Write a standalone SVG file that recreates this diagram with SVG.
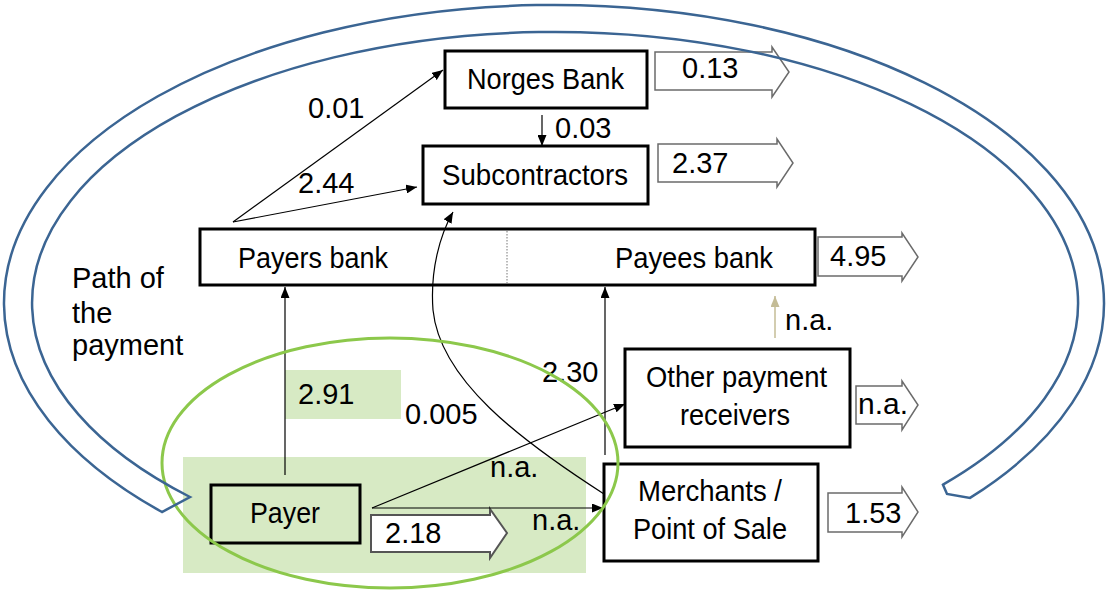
<svg xmlns="http://www.w3.org/2000/svg" width="1107" height="592" viewBox="0 0 1107 592">
<style>
text{font-family:"Liberation Sans",Arial,sans-serif;font-size:29px;fill:#000}
.box{fill:#fff;stroke:#000;stroke-width:3}
.blk{fill:#fff;stroke:#6b6b6b;stroke-width:1.5}
.con{fill:none;stroke:#000;stroke-width:1.2}
</style>
<defs>
<marker id="ah" markerUnits="userSpaceOnUse" markerWidth="11" markerHeight="9" refX="11" refY="4.5" orient="auto"><path d="M0,0 L11,4.5 L0,9 Z" fill="#000"/></marker>
<marker id="aht" markerUnits="userSpaceOnUse" markerWidth="11" markerHeight="9" refX="11" refY="4.5" orient="auto"><path d="M0,0 L11,4.5 L0,9 Z" fill="#c4bc96"/></marker>
</defs>
<rect width="1107" height="592" fill="#fff"/>

<g id="payer-area">
<rect x="183" y="457" width="403" height="116" fill="#d7eac4"/>
<rect x="285" y="370" width="116" height="49" fill="#d7eac4"/>
</g>

<g id="norges-bank">
<rect class="box" x="445" y="51" width="202" height="57"/>
<text x="467" y="89" textLength="157" lengthAdjust="spacingAndGlyphs">Norges Bank</text>
</g>
<g id="out-norges">
<path class="blk" d="M655,52 L772,52 L772,47 L789,72 L772,97 L772,90 L655,90 Z"/>
<text x="682" y="78">0.13</text>
</g>

<g id="subcontractors">
<rect class="box" x="423" y="146" width="225" height="58"/>
<text x="442" y="185" textLength="186" lengthAdjust="spacingAndGlyphs">Subcontractors</text>
</g>
<g id="out-subcontractors">
<path class="blk" d="M658,144 L777,144 L777,139 L793,163 L777,187 L777,182 L658,182 Z"/>
<text x="672" y="173">2.37</text>
</g>

<g id="banks">
<rect class="box" x="200" y="229" width="615" height="56"/>
<line x1="507" y1="231" x2="507" y2="283" stroke="#777" stroke-width="1" stroke-dasharray="1.5,1.5"/>
<text x="238" y="268" textLength="150" lengthAdjust="spacingAndGlyphs">Payers bank</text>
<text x="615" y="268" textLength="158" lengthAdjust="spacingAndGlyphs">Payees bank</text>
</g>
<g id="out-banks">
<path class="blk" d="M818,237 L902,237 L902,233 L918,257 L902,281 L902,276 L818,276 Z"/>
<text x="830" y="266">4.95</text>
</g>

<g id="other-receivers">
<rect class="box" x="625" y="349" width="225" height="98"/>
<text x="646" y="387" textLength="181" lengthAdjust="spacingAndGlyphs">Other payment</text>
<text x="680" y="425" textLength="110" lengthAdjust="spacingAndGlyphs">receivers</text>
</g>
<g id="out-other">
<path class="blk" d="M856,386 L902,386 L902,381 L918,405 L902,430 L902,424 L856,424 Z"/>
<text x="858" y="414" textLength="50" lengthAdjust="spacingAndGlyphs">n.a.</text>
</g>

<g id="merchants">
<rect class="box" x="604" y="464" width="214" height="97"/>
<text x="638" y="501" textLength="144" lengthAdjust="spacingAndGlyphs">Merchants /</text>
<text x="633" y="539" textLength="154" lengthAdjust="spacingAndGlyphs">Point of Sale</text>
</g>
<g id="out-merchants">
<path class="blk" d="M828,493 L902,493 L902,487 L918,512 L902,537 L902,532 L828,532 Z"/>
<text x="845" y="523">1.53</text>
</g>

<g id="payer">
<rect x="211" y="485" width="149" height="58" fill="none" stroke="#000" stroke-width="3"/>
<text x="250" y="523" textLength="70" lengthAdjust="spacingAndGlyphs">Payer</text>
</g>
<g id="out-payer">
<path d="M371,515 L490,515 L490,509 L507,533 L490,558 L490,552 L371,552 Z" fill="#fff" stroke="#555" stroke-width="2"/>
<text x="385" y="543">2.18</text>
</g>

<g id="connectors">
<line class="con" x1="233" y1="222" x2="443" y2="70" marker-end="url(#ah)"/>
<line class="con" x1="233" y1="222" x2="417" y2="187" marker-end="url(#ah)"/>
<line class="con" x1="542" y1="115" x2="542" y2="146" marker-end="url(#ah)"/>
<path class="con" d="M604,494 C520,440 440,380 433,310 C430,270 440,235 453,212" marker-end="url(#ah)"/>
<line class="con" x1="285" y1="475" x2="285" y2="287" marker-end="url(#ah)"/>
<line class="con" x1="605" y1="455" x2="605" y2="287" marker-end="url(#ah)"/>
<line x1="775" y1="338" x2="775" y2="296" stroke="#c4bc96" stroke-width="1.5" marker-end="url(#aht)"/>
<line class="con" x1="372" y1="508" x2="625" y2="404" marker-end="url(#ah)"/>
<line class="con" x1="372" y1="508" x2="603" y2="508" marker-end="url(#ah)"/>
<text x="308" y="118">0.01</text>
<text x="298" y="193">2.44</text>
<text x="555" y="138">0.03</text>
<text x="785" y="330">n.a.</text>
<text x="542" y="382">2.30</text>
<text x="298" y="404">2.91</text>
<text x="405" y="424">0.005</text>
<text x="490" y="477">n.a.</text>
<text x="532" y="530">n.a.</text>
</g>

<g id="payer-ellipse">
<ellipse cx="390" cy="463" rx="228" ry="125" fill="none" stroke="#8cc84b" stroke-width="3"/>
</g>

<g id="path-of-payment">
<path d="M162,512 A550,298 0 1 1 970,497.9 L947,494 L943,484.7 A523,271 0 1 0 190,497 Z" fill="none" stroke="#3b6593" stroke-width="2.5"/>
<text x="72" y="288">Path of</text>
<text x="72" y="323">the</text>
<text x="72" y="355">payment</text>
</g>
</svg>
